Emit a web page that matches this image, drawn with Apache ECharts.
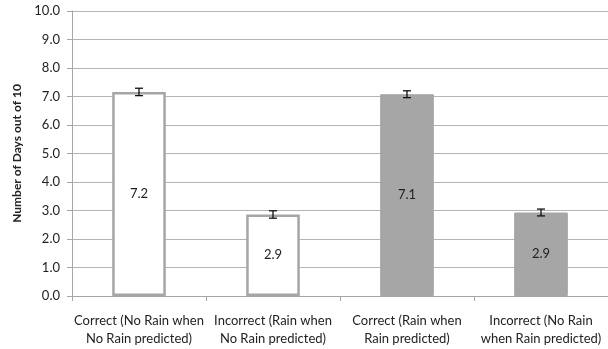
<!DOCTYPE html>
<html><head><meta charset="utf-8">
<script src="https://cdn.jsdelivr.net/npm/echarts@6/dist/echarts.min.js"></script>
<style>html,body{margin:0;padding:0;background:#fff}#c{width:608px;height:349px}</style>
</head><body><div id="c"></div>
<script>
var categories = ['Correct (No Rain when\nNo Rain predicted)', 'Incorrect (Rain when\nNo Rain predicted)', 'Correct (Rain when\nRain predicted)', 'Incorrect (No Rain\nwhen Rain predicted)'];
var values = [7.16, 2.86, 7.08, 2.93];
var errors = [0.13, 0.13, 0.12, 0.12];
var filled = [false, false, true, true];
var yTicks = [0, 1, 2, 3, 4, 5, 6, 7, 8, 9, 10];

var FONT = 'Lato';
var chart = echarts.init(document.getElementById('c'), null, {renderer: 'canvas'});
var barData = values.map(function (v, i) {
  return {
    value: v,
    itemStyle: filled[i]
      ? {color: '#a6a6a6', borderColor: '#a6a6a6', borderWidth: 1}
      : {color: '#ffffff', borderColor: '#a6a6a6', borderWidth: 2.5}
  };
});
var errData = values.map(function (v, i) { return [i, v - errors[i], v + errors[i]]; });

chart.setOption({
  animation: false,
  grid: {left: 72, top: 11, width: 540, height: 285, containLabel: false},
  xAxis: {
    type: 'category',
    data: categories,
    axisLine: {lineStyle: {color: '#a6a6a6', width: 1}},
    axisTick: {show: true, length: 5, lineStyle: {color: '#a6a6a6'}},
    axisLabel: {color: '#222', fontFamily: FONT, fontSize: 13, lineHeight: 18, margin: 16, interval: 0}
  },
  yAxis: {
    type: 'value',
    min: yTicks[0], max: yTicks[yTicks.length - 1], interval: 1,
    name: 'Number of Days out of 10',
    nameLocation: 'middle',
    nameGap: 44,
    nameTextStyle: {color: '#222', fontFamily: FONT, fontSize: 12, fontWeight: 'bold'},
    axisLine: {show: true, lineStyle: {color: '#a6a6a6', width: 1}},
    axisTick: {show: true, length: 5, inside: false, lineStyle: {color: '#a6a6a6'}},
    axisLabel: {color: '#222', fontFamily: FONT, fontSize: 13, margin: 12, formatter: function (v) { return v.toFixed(1); }},
    splitLine: {show: true, lineStyle: {color: '#b4b4b4', width: 1}}
  },
  series: [{
    type: 'bar',
    data: barData,
    barWidth: '40%',
    label: {show: true, position: 'inside', color: '#222', fontFamily: FONT, fontSize: 13,
      formatter: function (p) { return p.value.toFixed(1); }}
  }, {
    type: 'custom',
    data: errData,
    z: 10,
    renderItem: function (params, api) {
      var x = api.value(0);
      var lo = api.coord([x, api.value(1)]);
      var hi = api.coord([x, api.value(2)]);
      var w = 4;
      var st = {stroke: '#111', lineWidth: 1.3};
      return {type: 'group', children: [
        {type: 'line', shape: {x1: lo[0], y1: lo[1], x2: hi[0], y2: hi[1]}, style: st},
        {type: 'line', shape: {x1: lo[0] - w, y1: lo[1], x2: lo[0] + w, y2: lo[1]}, style: st},
        {type: 'line', shape: {x1: hi[0] - w, y1: hi[1], x2: hi[0] + w, y2: hi[1]}, style: st}
      ]};
    }
  }]
});
</script></body></html>
